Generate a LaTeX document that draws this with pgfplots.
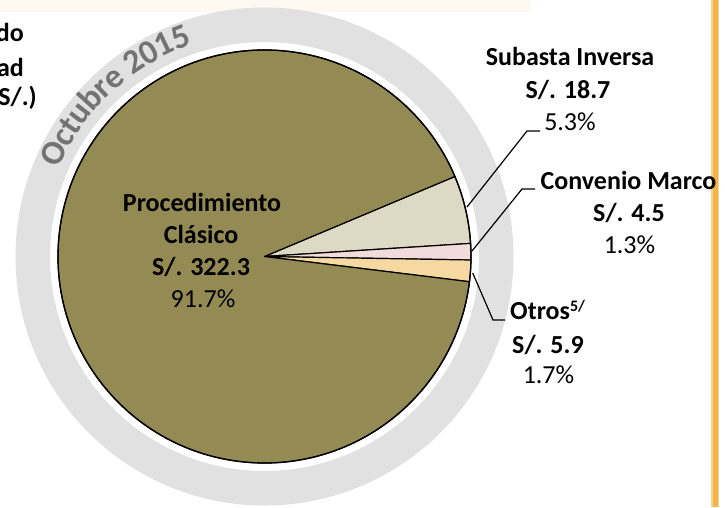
\documentclass[border=0pt]{standalone}
\usepackage{pgfplots}
\pgfplotsset{compat=1.18}
\usepackage{pgfplotstable}
\usepackage{fontspec}
\setmainfont{Carlito}
\definecolor{proc}{HTML}{948A54}
\definecolor{sub}{HTML}{DDD9C3}
\definecolor{conv}{HTML}{F2DCDB}
\definecolor{otros}{HTML}{F5D9A0}
\definecolor{ring}{HTML}{E1E1E1}
\definecolor{ringtext}{HTML}{737373}
\definecolor{band}{HTML}{FDF9F1}
\definecolor{bar}{HTML}{F2B447}
\pgfplotstableread{
name value pct
Subasta 18.7 5.3
Convenio 4.5 1.3
Otros 5.9 1.7
Procedimiento 322.3 91.7
}\piedata
\newcommand\bl{\fontsize{26}{31}\selectfont\bfseries}
\newcommand\rg{\fontsize{26}{31}\selectfont}
\begin{document}
\begin{tikzpicture}
\pgfplotstablegetelem{0}{value}\of\piedata \let\vA\pgfplotsretval
\pgfplotstablegetelem{1}{value}\of\piedata \let\vB\pgfplotsretval
\pgfplotstablegetelem{2}{value}\of\piedata \let\vC\pgfplotsretval
\pgfplotstablegetelem{3}{value}\of\piedata \let\vD\pgfplotsretval
\pgfmathsetmacro\tot{\vA+\vB+\vC+\vD}
\pgfmathsetmacro\aA{22.8}
\pgfmathsetmacro\aB{\aA-(\vA/\tot)*360}
\pgfmathsetmacro\aC{\aB-(\vB/\tot)*360}
\pgfmathsetmacro\aD{\aC-(\vC/\tot)*360}
\pgfmathsetmacro\aE{\aD-(\vD/\tot)*360}
\def\cx{264.5}\def\cy{250.5}\def\R{206.5}
\begin{axis}[hide axis, scale only axis, x=1pt, y=1pt,
  xmin=0, xmax=725, ymin=0, ymax=507, clip=false]
\addplot[draw=none] coordinates {(0,0) (725,507)};
\coordinate (BL) at (axis cs:0,0);
\coordinate (TR) at (axis cs:725,507);
\coordinate (C) at (axis cs:\cx,\cy);
\fill[white] (axis cs:0,0) rectangle (axis cs:725,507);
\fill[band] (axis cs:0,495) rectangle (axis cs:530,507);
\fill[bar!60] (axis cs:711,0) rectangle (axis cs:719,507);
\fill[bar] (axis cs:712.5,0) rectangle (axis cs:717.5,507);
\fill[ring, even odd rule] (axis cs:\cx,\cy) circle[radius=249pt] (axis cs:\cx,\cy) circle[radius=214.5pt];
% slices
\filldraw[fill=sub, line width=1.2pt, line join=round] (axis cs:\cx,\cy) -- ++(\aA:\R pt) arc[start angle=\aA, end angle=\aB, radius=\R pt] -- cycle;
\filldraw[fill=conv, line width=1.2pt, line join=round] (axis cs:\cx,\cy) -- ++(\aB:\R pt) arc[start angle=\aB, end angle=\aC, radius=\R pt] -- cycle;
\filldraw[fill=otros, line width=1.2pt, line join=round] (axis cs:\cx,\cy) -- ++(\aC:\R pt) arc[start angle=\aC, end angle=\aD, radius=\R pt] -- cycle;
\filldraw[fill=proc, line width=1.2pt, line join=round] (axis cs:\cx,\cy) -- ++(\aD:\R pt) arc[start angle=\aD, end angle=\aE, radius=\R pt] -- cycle;
\draw[line width=1.3pt] (axis cs:\cx,\cy) circle[radius=\R pt];
% leader lines
\draw[line width=1.2pt] (axis cs:467,300) -- (axis cs:527,376) -- (axis cs:540,376);
\draw[line width=1.2pt] (axis cs:472,256) -- (axis cs:522,318) -- (axis cs:535,318);
\draw[line width=1.2pt] (axis cs:472.7,234) -- (axis cs:493,187) -- (axis cs:505,187);
% labels
\node[anchor=base, inner sep=0] at (axis cs:570,441) {\bl Subasta Inversa};
\node[anchor=base, inner sep=0] at (axis cs:568,408) {\bl S/. 18.7};
\node[anchor=base, inner sep=0] at (axis cs:570,376) {\rg 5.3\%};
\node[anchor=base, inner sep=0] at (axis cs:628.5,318) {\bl Convenio Marco};
\node[anchor=base, inner sep=0] at (axis cs:629,286) {\bl S/. 4.5};
\node[anchor=base, inner sep=0] at (axis cs:629.5,254) {\rg 1.3\%};
\node[anchor=base west, inner sep=0] at (axis cs:510,188) {\bl Otros\raisebox{8pt}{\fontsize{16}{16}\selectfont\bfseries 5/}};
\node[anchor=base, inner sep=0] at (axis cs:548,154) {\bl S/. 5.9};
\node[anchor=base, inner sep=0] at (axis cs:548.5,124) {\rg 1.7\%};
\node[anchor=base, inner sep=0] at (axis cs:202,296) {\bl Procedimiento};
\node[anchor=base, inner sep=0] at (axis cs:201,264) {\bl Clásico};
\node[anchor=base, inner sep=0] at (axis cs:201,232) {\bl S/. 322.3};
\node[anchor=base, inner sep=0] at (axis cs:203,200) {\rg 91.7\%};
\node[anchor=base east, inner sep=0] at (axis cs:24,465) {\bl do};
\node[anchor=base east, inner sep=0] at (axis cs:24,430) {\bl ad};
\node[anchor=base east, inner sep=0] at (axis cs:37,401) {\bl S/.)};
\end{axis}
\foreach \c/\a in {O/154.0, c/149.36, t/146.07, u/142.29, b/137.73, r/133.92, e/130.25, 2/123.95, 0/119.63, 1/115.32, 5/111.00}{
  \path (C) ++(\a:224pt) node[anchor=base, inner sep=0, rotate=\a-90, text=ringtext, font=\fontsize{34}{40}\selectfont\bfseries] {\c};
}
\pgfresetboundingbox
\path (BL) rectangle (TR);
\end{tikzpicture}
\end{document}
